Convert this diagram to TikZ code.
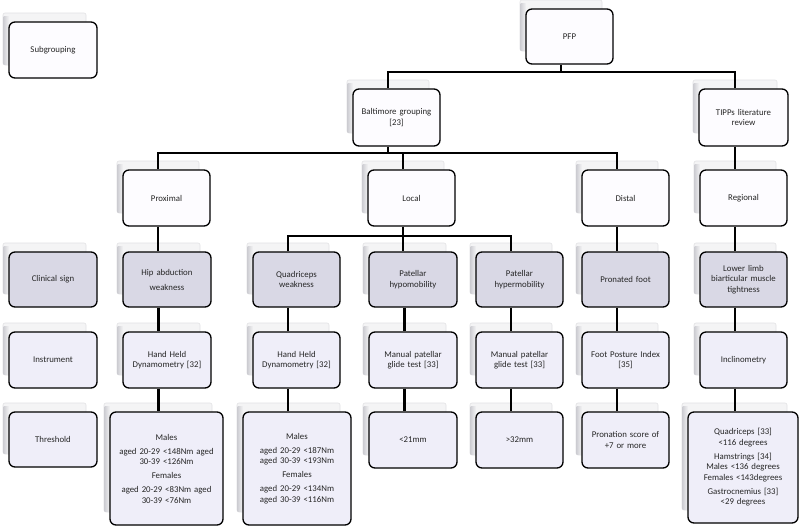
\documentclass[tikz,border=0pt]{standalone}
\usepackage{fontspec}
\setmainfont{Carlito}
\definecolor{whitefill}{HTML}{FDFCFF}
\definecolor{signfill}{HTML}{D9D8E5}
\definecolor{lightfill}{HTML}{EFEEF9}
\definecolor{shcol}{HTML}{F4F4F5}
\definecolor{shline}{HTML}{E2E2E4}
\definecolor{shdark}{HTML}{CFCFD4}
\definecolor{txt}{HTML}{262626}
\newcommand{\cardfont}{\fontsize{8.8}{10.5}\selectfont}
\newcommand{\card}[7]{%
  \pgfmathsetmacro\cL{#2}\pgfmathsetmacro\cT{#3}%
  \pgfmathsetmacro\cR{#4}\pgfmathsetmacro\cB{#5}%
  \pgfmathsetmacro\sW{\cR-\cL-5}\pgfmathsetmacro\sH{\cB-\cT-4}%
  \pgfmathsetmacro\sX{(\cL-6+\cR-11)/2}\pgfmathsetmacro\sY{(\cT-9+\cB-13)/2}%
  \pgfmathsetmacro\bW{\cR-\cL}\pgfmathsetmacro\bH{\cB-\cT}%
  \pgfmathsetmacro\tW{\bW-4}%
  \pgfmathsetmacro\bX{(\cL+\cR)/2}\pgfmathsetmacro\bY{(\cT+\cB)/2}%
  \node[shadowbox, minimum width=\sW pt, minimum height=\sH pt] (#1-s) at (\sX,\sY) {};
  \fill[left color=shdark, right color=shcol] (\cL-5.5,\cT-6) rectangle (\cL,\cB-14);
  \node[cardbox, #6, minimum width=\bW pt, minimum height=\bH pt, text width=\tW pt] (#1) at (\bX,\bY) {#7};
}
\begin{document}
\begin{tikzpicture}[x=1pt,y=-1pt,
  cardbox/.style={draw=black, line width=1.3pt, rounded corners=6pt, align=center,
    inner sep=0pt, font=\cardfont, text=txt},
  shadowbox/.style={fill=shcol, draw=shline, line width=0.6pt, rounded corners=2pt, inner sep=0pt},
  topbox/.style={fill=whitefill},
  signbox/.style={fill=signfill},
  lightbox/.style={fill=lightfill},
  conn/.style={line width=2.6pt, draw=black}]
\useasboundingbox[fill=white] (0,0) rectangle (800,528);

% top levels
\card{sub}{9}{22}{97}{78}{topbox}{Subgrouping}
\card{pfp}{526}{9}{613}{64}{topbox}{PFP}
\card{bal}{353}{89}{440}{146}{topbox}{Baltimore grouping\\{}[23]}
\card{tipps}{699}{89}{788}{146}{topbox}{TIPPs literature\\review}
\card{prox}{123}{170}{210}{226}{topbox}{Proximal}
\card{local}{368}{170}{455}{226}{topbox}{Local}
\card{dist}{582}{170}{669}{226}{topbox}{Distal}
\card{reg}{700}{170}{787}{226}{topbox}{Regional}

% clinical sign row
\card{clin}{9}{252}{97}{307}{signbox}{Clinical sign}
\card{hip}{123}{252}{211}{307}{signbox}{Hip abduction\\[4.5pt]weakness}
\card{quad}{253}{252}{340}{307}{signbox}{Quadriceps\\weakness}
\card{hypo}{369}{252}{457}{307}{signbox}{Patellar\\hypomobility}
\card{hyper}{476}{252}{563}{307}{signbox}{Patellar\\hypermobility}
\card{pron}{582}{252}{669}{307}{signbox}{Pronated foot}
\card{lower}{700}{252}{787}{307}{signbox}{Lower limb\\biarticular muscle\\tightness}

% instrument row
\card{instr}{9}{332}{97}{388}{lightbox}{Instrument}
\card{hhda}{123}{332}{211}{388}{lightbox}{Hand Held\\Dynamometry [32]}
\card{hhdb}{253}{332}{340}{388}{lightbox}{Hand Held\\Dynamometry [32]}
\card{mpga}{369}{332}{457}{388}{lightbox}{Manual patellar\\glide test [33]}
\card{mpgb}{476}{332}{563}{388}{lightbox}{Manual patellar\\glide test [33]}
\card{fpi}{582}{332}{669}{388}{lightbox}{Foot Posture Index\\{}[35]}
\card{incl}{700}{332}{787}{388}{lightbox}{Inclinometry}

% threshold row
\card{thr}{9}{412}{97}{467}{lightbox}{Threshold}
\card{thra}{110}{412}{223}{525}{lightbox}{Males\\[3.5pt]aged 20-29 <148Nm aged\\30-39 <126Nm\\[3.5pt]Females\\[3.5pt]aged 20-29 <83Nm aged\\30-39 <76Nm}
\card{thrb}{243}{412}{351}{525}{lightbox}{Males\\[3.5pt]aged 20-29 <187Nm\\aged 30-39 <193Nm\\[3.5pt]Females\\[3.5pt]aged 20-29 <134Nm\\aged 30-39 <116Nm}
\card{thrc}{369}{412}{457}{468}{lightbox}{<21mm}
\card{thrd}{476}{412}{563}{468}{lightbox}{>32mm}
\card{thre}{582}{412}{669}{468}{lightbox}{Pronation score of\\+7 or more}
\card{thrf}{688}{412}{798}{523}{lightbox}{Quadriceps [33]\\<116 degrees\\[3.5pt]Hamstrings [34]\\Males <136 degrees\\Females <143degrees\\[3.5pt]Gastrocnemius [33]\\<29 degrees}

% bus levels
\coordinate (busa) at (0,72);
\coordinate (busb) at (0,153);
\coordinate (busc) at (0,236);

% connectors
\draw[conn] (pfp.south -| pfp-s.center) -- (pfp-s.center |- busa) -| (bal.north -| bal-s.center);
\draw[conn] (pfp-s.center |- busa) -| (tipps.north -| tipps-s.center);
\draw[conn] (bal.south -| bal-s.center) -- (bal-s.center |- busb) -| (prox.north -| prox-s.center);
\draw[conn] (bal-s.center |- busb) -| (local.north -| local-s.center);
\draw[conn] (bal-s.center |- busb) -| (dist.north -| dist-s.center);
\draw[conn] (tipps.south -| tipps-s.center) -- (reg.north -| tipps-s.center);
\draw[conn] (local.south -| local-s.center) -- (local-s.center |- busc) -| (quad.north -| quad-s.center);
\draw[conn] (local-s.center |- busc) -| (hypo.north -| local-s.center);
\draw[conn] (local-s.center |- busc) -| (hyper.north -| hyper-s.center);
\draw[conn] (prox.south -| prox-s.center) -- (hip.north -| prox-s.center);
\draw[conn] (dist.south -| dist-s.center) -- (pron.north -| dist-s.center);
\draw[conn] (reg.south -| reg-s.center) -- (lower.north -| reg-s.center);
% clinical -> instrument -> threshold
\draw[conn] (hip.south -| hip-s.center) -- (hhda.north -| hip-s.center);
\draw[conn] (hhda.south -| hip-s.center) -- (thra.north -| hip-s.center);
\draw[conn] (quad.south -| quad-s.center) -- (hhdb.north -| quad-s.center);
\draw[conn] (hhdb.south -| quad-s.center) -- (thrb.north -| quad-s.center);
\draw[conn] (hypo.south -| hypo-s.center) -- (mpga.north -| hypo-s.center);
\draw[conn] (mpga.south -| hypo-s.center) -- (thrc.north -| hypo-s.center);
\draw[conn] (hyper.south -| hyper-s.center) -- (mpgb.north -| hyper-s.center);
\draw[conn] (mpgb.south -| hyper-s.center) -- (thrd.north -| hyper-s.center);
\draw[conn] (pron.south -| pron-s.center) -- (fpi.north -| pron-s.center);
\draw[conn] (fpi.south -| pron-s.center) -- (thre.north -| pron-s.center);
\draw[conn] (lower.south -| lower-s.center) -- (incl.north -| lower-s.center);
\draw[conn] (incl.south -| lower-s.center) -- (thrf.north -| lower-s.center);
\end{tikzpicture}
\end{document}
